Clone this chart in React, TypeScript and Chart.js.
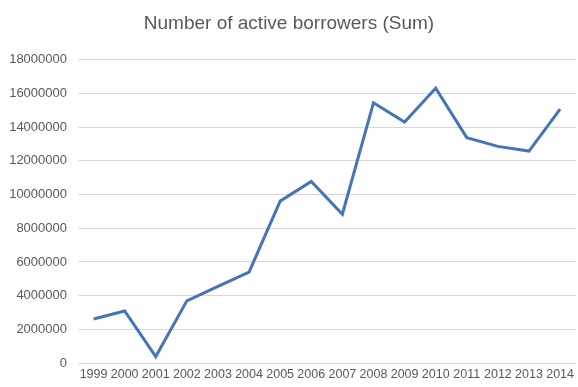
import React, { useEffect, useRef } from "react";
import { Chart, registerables } from "chart.js";

Chart.register(...registerables);

const years = ["1999", "2000", "2001", "2002", "2003", "2004", "2005", "2006", "2007", "2008", "2009", "2010", "2011", "2012", "2013", "2014"];
const borrowers = [2610000, 3090000, 380000, 3690000, 4550000, 5400000, 9610000, 10780000, 8830000, 15450000, 14310000, 16310000, 13380000, 12860000, 12580000, 15070000];
const yTicks = [0, 2000000, 4000000, 6000000, 8000000, 10000000, 12000000, 14000000, 16000000, 18000000];
const titleText = "Number of active borrowers (Sum)";

export default function App() {
  const ref = useRef<HTMLCanvasElement>(null);
  useEffect(() => {
    if (!ref.current) return;
    const chart = new Chart(ref.current, {
      type: "line",
      data: {
        labels: years,
        datasets: [
          {
            label: "Sum",
            data: borrowers,
            borderColor: "#4574B8",
            borderWidth: 3,
            pointRadius: 0,
            tension: 0,
            fill: false,
          },
        ],
      },
      options: {
        animation: false,
        responsive: false,
        layout: { padding: { left: 0, right: 0, top: 0, bottom: 1 } },
        plugins: {
          legend: { display: false },
          tooltip: { enabled: false },
          title: {
            display: true,
            text: titleText,
            color: "#595959",
            font: { family: "Liberation Sans", size: 19, weight: "normal" },
            padding: { top: 12, bottom: 25 },
          },
        },
        scales: {
          x: {
            offset: true,
            grid: { display: false, drawTicks: false },
            border: { display: false },
            ticks: {
              color: "#595959",
              font: { family: "Liberation Sans", size: 12.5 },
              maxRotation: 0,
              minRotation: 0,
              autoSkip: false,
              padding: 4,
            },
          },
          y: {
            min: 0,
            max: 18000000,
            afterBuildTicks: (scale: any) => {
              scale.ticks = yTicks.map((v) => ({ value: v }));
            },
            afterFit: (scale: any) => {
              scale.width = 78;
            },
            grid: { color: "#D9D9D9", lineWidth: 1, drawTicks: false },
            border: { display: false },
            ticks: {
              color: "#595959",
              font: { family: "Liberation Sans", size: 13 },
              padding: 11,
              callback: (v: any) => String(v),
            },
          },
        },
      },
    });
    return () => chart.destroy();
  }, []);
  return (
    <div style={{ position: "fixed", left: 0, top: 0, width: 578, height: 387, background: "#fff" }}>
      <canvas ref={ref} width={578} height={387} style={{ width: 578, height: 387 }} />
    </div>
  );
}
